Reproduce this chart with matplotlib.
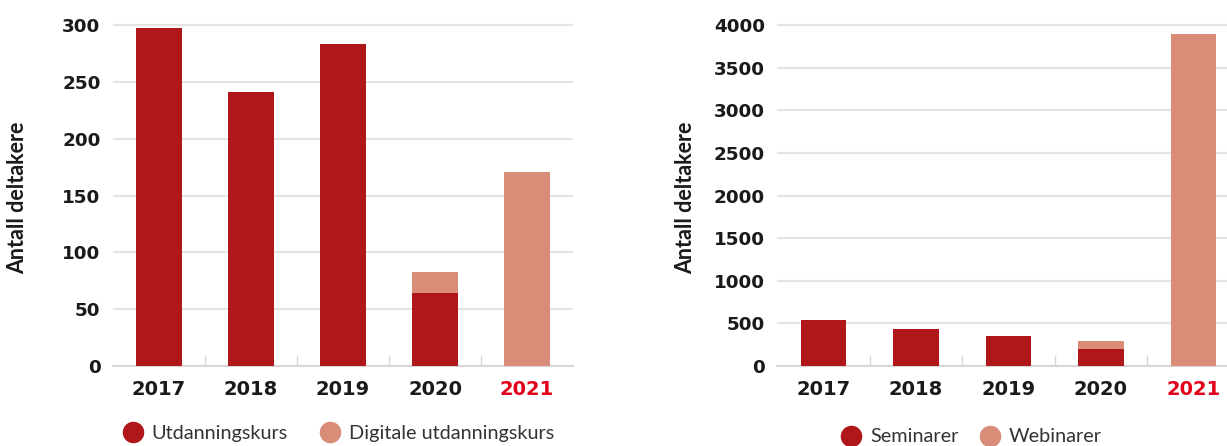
import matplotlib.pyplot as plt
from matplotlib.lines import Line2D

plt.rcParams['font.family'] = ['Lato', 'DejaVu Sans']

years = ["2017", "2018", "2019", "2020", "2021"]

# left panel: courses
kurs = [297, 241, 283, 64, 0]
digitale_kurs = [0, 0, 0, 19, 171]

# right panel: seminars
seminarer = [536, 430, 348, 196, 0]
webinarer = [0, 0, 0, 94, 3900]

DARK = "#B0171A"
LIGHT = "#D98C77"
HIGHLIGHT = "#E2001A"
GRID = "#E4E4E4"
BASE = "#D6D6D6"
INK = "#1A1A1A"

W, H = 1227, 446
fig = plt.figure(figsize=(W / 100, H / 100), dpi=100)


def px_axes(left, right, top, bottom):
    return fig.add_axes([left / W, 1 - bottom / H, (right - left) / W, (bottom - top) / H])


def style_panel(ax, bottom_vals, top_vals, ymax, ystep):
    x = range(len(years))
    ax.bar(x, bottom_vals, width=0.49, color=DARK, zorder=3)
    ax.bar(x, top_vals, width=0.49, bottom=bottom_vals, color=LIGHT, zorder=3)

    ax.set_xlim(-0.5, 4.5)
    ax.set_ylim(0, ymax * 1.01)
    ax.set_yticks(range(0, ymax + 1, ystep))
    ax.yaxis.grid(True, color=GRID, linewidth=1.5, zorder=0)
    ax.set_axisbelow(True)

    for side in ("top", "right", "left"):
        ax.spines[side].set_visible(False)
    ax.spines["bottom"].set_color(BASE)
    ax.spines["bottom"].set_linewidth(1.5)

    ax.set_xticks(list(x))
    ax.set_xticklabels(years)
    ax.set_xticks([0.5, 1.5, 2.5, 3.5], minor=True)
    ax.tick_params(axis="x", which="major", length=0, pad=10, labelcolor=INK)
    ax.tick_params(axis="x", which="minor", direction="in", length=8, width=1, color=BASE)
    ax.tick_params(axis="y", length=0, pad=9, labelcolor=INK)
    for t in ax.get_xticklabels():
        t.set_fontfamily("DejaVu Sans")
        t.set_fontweight("bold")
        t.set_fontsize(14)
    for t in ax.get_yticklabels():
        t.set_fontfamily("DejaVu Sans")
        t.set_fontweight("bold")
        t.set_fontsize(13.2)
    ax.get_xticklabels()[-1].set_color(HIGHLIGHT)


ax1 = px_axes(113, 573, 25 - 3.4, 366)
style_panel(ax1, kurs, digitale_kurs, 300, 50)

ax2 = px_axes(777.5, 1239.5, 25 - 3.4, 366)
style_panel(ax2, seminarer, webinarer, 4000, 500)

for xpx in (18, 686):
    fig.text(xpx / W, 1 - 198 / H, "Antall deltakere", rotation=90, ha="center", va="center",
             fontsize=15.5, fontweight="bold", color=INK)


def dot(color):
    return Line2D([], [], linestyle="none", marker="o", markersize=14.5,
                  markerfacecolor=color, markeredgecolor=color)


leg_kw = dict(ncol=2, frameon=False, fontsize=14.3, handlelength=1.0,
              handletextpad=0.45, borderpad=0, loc="center", labelcolor="#333333")
fig.legend([dot(DARK), dot(LIGHT)], ["Utdanningskurs", "Digitale utdanningskurs"],
           bbox_to_anchor=(338.5 / W, 1 - 433 / H), columnspacing=1.6, **leg_kw)
fig.legend([dot(DARK), dot(LIGHT)], ["Seminarer", "Webinarer"],
           bbox_to_anchor=(971.5 / W, 1 - 437 / H), columnspacing=1.1, **leg_kw)

fig.savefig("out.png", dpi=100, facecolor="white")
